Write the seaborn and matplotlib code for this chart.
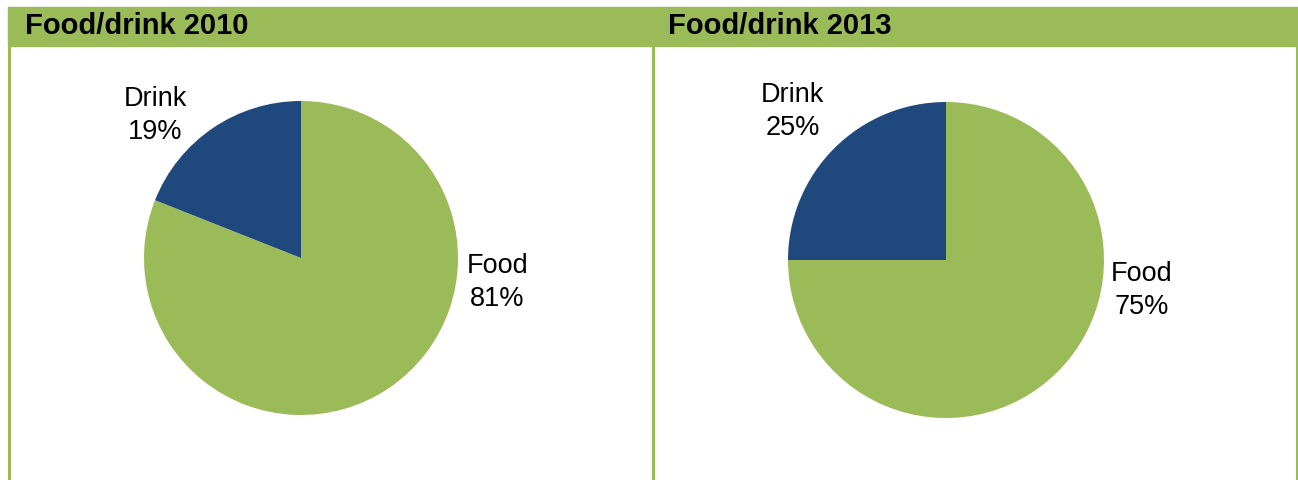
import matplotlib
matplotlib.use("Agg")
import matplotlib.pyplot as plt
from matplotlib.patches import Rectangle
from matplotlib.lines import Line2D
import seaborn as sns

# Share of spending by category
titles = ["Food/drink 2010", "Food/drink 2013"]
categories = ["Food", "Drink"]
shares_2010 = [81, 19]
shares_2013 = [75, 25]

sns.set_theme(style="white")
plt.rcParams["font.family"] = ["Liberation Sans", "DejaVu Sans"]

GREEN = "#9BBB59"
NAVY = "#1F497D"
colors = [GREEN, NAVY]

W, H = 1298, 480
fig = plt.figure(figsize=(W / 100, H / 100), dpi=100)


def fx(px):
    return px / W


def fy(py):
    return 1 - py / H


# header band and panel borders
fig.patches.append(Rectangle((fx(8), fy(46)), fx(1298 - 8), 39 / H,
                             transform=fig.transFigure, color=GREEN, zorder=0))
for xpix in (9, 653, 1297):
    fig.lines.append(Line2D([fx(xpix), fx(xpix)], [fy(46), 0],
                            transform=fig.transFigure, color=GREEN, lw=2.2))

panels = [
    dict(title=titles[0], values=shares_2010, cx=301, cy=258, r=157, tx=25,
         pos=[(1.25, -0.155), (-0.93, 0.905)]),
    dict(title=titles[1], values=shares_2013, cx=946, cy=260, r=158, tx=668,
         pos=[(1.24, -0.195), (-0.97, 0.94)]),
]

for p in panels:
    fig.text(fx(p["tx"]), fy(34), p["title"], fontsize=21, fontweight="bold",
             color="black", ha="left", va="baseline")
    r = p["r"]
    ax = fig.add_axes([fx(p["cx"] - r), fy(p["cy"] + r), 2 * r / W, 2 * r / H])
    ax.pie(p["values"], colors=colors, startangle=90, counterclock=False,
           radius=1, wedgeprops=dict(linewidth=0))
    ax.set_xlim(-1, 1)
    ax.set_ylim(-1, 1)
    ax.set_axis_off()
    for cat, val, (lx, ly) in zip(categories, p["values"], p["pos"]):
        ax.text(lx, ly, f"{cat}\n{val}%", ha="center", va="center",
                fontsize=19.5, color="black", linespacing=1.35, clip_on=False)

fig.savefig("out.png", dpi=100, facecolor="white")
